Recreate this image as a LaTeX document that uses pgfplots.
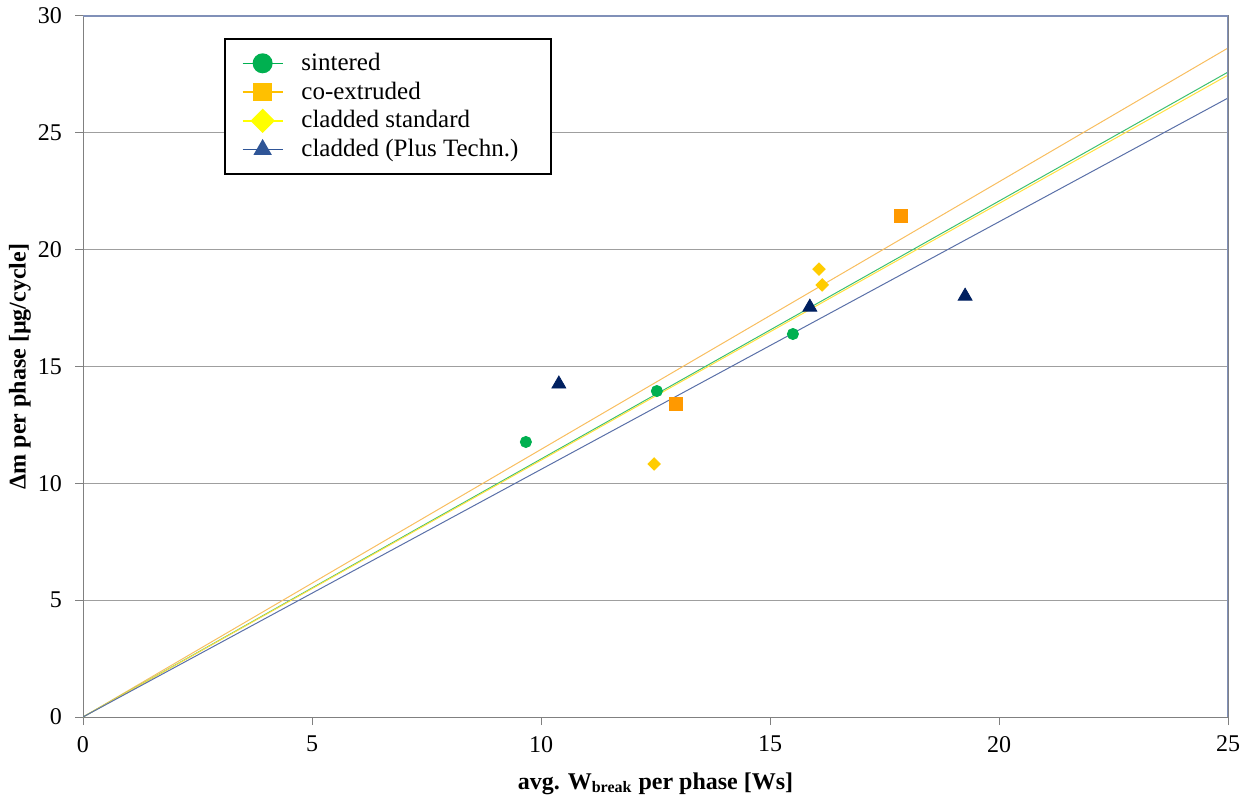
\documentclass[border=0pt]{standalone}
\usepackage{fontspec}
\setmainfont{Liberation Serif}
\usepackage{pgfplots}
\pgfplotsset{compat=1.18}
\definecolor{mgreen}{HTML}{00B050}
\definecolor{morange}{HTML}{FF9900}
\definecolor{mgold}{HTML}{FFCC00}
\definecolor{mnavy}{HTML}{002060}
\definecolor{lorange}{HTML}{F8BE60}
\definecolor{lgreen}{HTML}{3CC070}
\definecolor{lyellow}{HTML}{FFE040}
\definecolor{lblue}{HTML}{5A70A8}
\definecolor{legorange}{HTML}{FFC000}
\definecolor{legyellow}{HTML}{FFFF00}
\definecolor{legblue}{HTML}{2F5597}
\definecolor{frameblue}{HTML}{8090B8}
\begin{document}
\begin{tikzpicture}
\begin{axis}[
  scale only axis, width=572.5pt, height=350.5pt,
  xmin=0, xmax=25, ymin=0, ymax=30,
  xtick={0,5,...,25}, ytick={0,5,...,30},
  tick pos=left, tick align=outside, major tick length=4pt,
  tick style={draw=gray, line width=0.5pt},
  axis line style={draw=gray, line width=0.5pt},
  ymajorgrids, grid style={draw=gray!75, line width=0.5pt},
  /pgf/number format/assume math mode=true,
  tick label style={font=\fontsize{12}{14}\selectfont},
  xticklabel style={yshift=-2pt},
  yticklabel style={xshift=-3pt},
  every axis x label/.style={at={([yshift=-36pt]axis description cs:0.5,0)}, anchor=base},
  every axis y label/.style={at={([xshift=-31.5pt]axis description cs:0,0.5)}, rotate=90, anchor=center},
  xlabel={\bfseries\fontsize{12}{14}\selectfont avg. W\textsubscript{break} per phase [Ws]},
  ylabel={\bfseries\fontsize{12}{14}\selectfont Δm per phase [µg/cycle]},
  legend style={at={(0.123,0.969)}, anchor=north west, draw=black, line width=1pt,
    font=\fontsize{12.5}{14.5}\selectfont, row sep=0.2pt, inner xsep=8.5pt, inner ysep=5.2pt},
  legend cell align=left,
  legend image code/.code={\draw[mark repeat=2,mark phase=2,#1] plot coordinates {(0pt,0pt)(10pt,0pt)(20pt,0pt)}; \path (27pt,0pt);},
]
\addlegendimage{draw=mgreen, line width=0.8pt, mark=*, mark size=4.6pt, mark options={fill=mgreen, draw=mgreen}}
\addlegendentry{sintered}
\addlegendimage{draw=legorange, line width=0.8pt, mark=square*, mark size=4.2pt, mark options={fill=legorange, draw=legorange}}
\addlegendentry{co-extruded}
\addlegendimage{draw=legyellow, line width=0.8pt, mark=square*, mark size=3.9pt, mark options={fill=legyellow, draw=legyellow, rotate=45}}
\addlegendentry{cladded standard}
\addlegendimage{draw=legblue, line width=0.8pt, mark=triangle*, mark size=4.5pt, mark options={fill=legblue, draw=legblue}}
\addlegendentry{cladded (Plus Techn.)\hspace*{6pt}\null}
% trend lines
\addplot[forget plot, draw=lorange, line width=0.5pt] coordinates {(0,0) (25,28.63)};
\addplot[forget plot, draw=lgreen, line width=0.5pt] coordinates {(0,0) (25,27.60)};
\addplot[forget plot, draw=lyellow, line width=0.5pt] coordinates {(0,0) (25,27.47)};
\addplot[forget plot, draw=lblue, line width=0.5pt] coordinates {(0,0) (25,26.49)};
% data
\addplot[forget plot, only marks, mark=*, mark size=2.8pt, mark options={fill=mgreen, draw=mgreen}]
  coordinates {(9.67,11.77) (12.53,13.95) (15.50,16.39)};
\addplot[forget plot, only marks, mark=square*, mark size=3.2pt, mark options={fill=morange, draw=morange}]
  coordinates {(12.95,13.39) (17.86,21.44)};
\addplot[forget plot, only marks, mark=square*, mark size=2.2pt, mark options={fill=mgold, draw=mgold, rotate=45}]
  coordinates {(12.47,10.83) (16.07,19.17) (16.14,18.49)};
\addplot[forget plot, only marks, mark=triangle*, mark size=4pt, mark options={fill=mnavy, draw=mnavy}]
  coordinates {(10.39,14.25) (15.87,17.54) (19.26,18.01)};
\draw[frameblue, line width=0.6pt] (rel axis cs:0,1) -- (rel axis cs:1,1) -- (rel axis cs:1,0);
\coordinate (sw) at (rel axis cs:0,0);
\coordinate (ne) at (rel axis cs:1,1);
\end{axis}
\pgfresetboundingbox
\path[use as bounding box] ([shift={(-41.5pt,-40pt)}]sw) rectangle ([shift={(12pt,8pt)}]ne);
\end{tikzpicture}
\end{document}
